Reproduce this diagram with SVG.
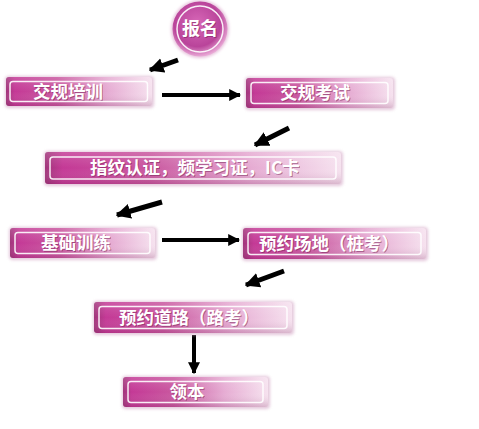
<svg xmlns="http://www.w3.org/2000/svg" width="479" height="429" viewBox="0 0 479 429">
  <defs>
    <linearGradient id="boxH" x1="0" y1="0" x2="1" y2="0">
      <stop offset="0" stop-color="#a0357a"/>
      <stop offset="0.06" stop-color="#c43996"/>
      <stop offset="0.35" stop-color="#c9579f"/>
      <stop offset="0.7" stop-color="#e6acd3"/>
      <stop offset="1" stop-color="#f6e2ef"/>
    </linearGradient>
    <linearGradient id="boxV" x1="0" y1="0" x2="0" y2="1">
      <stop offset="0" stop-color="#ffffff" stop-opacity="0.15"/>
      <stop offset="0.5" stop-color="#ffffff" stop-opacity="0"/>
      <stop offset="1" stop-color="#6a1048" stop-opacity="0.2"/>
    </linearGradient>
    <radialGradient id="circ" cx="0.45" cy="0.4" r="0.6">
      <stop offset="0" stop-color="#d868b8"/>
      <stop offset="0.7" stop-color="#b9449a"/>
      <stop offset="1" stop-color="#e9a8d6"/>
    </radialGradient>
    <filter id="glow" x="-10%" y="-30%" width="120%" height="160%">
      <feGaussianBlur stdDeviation="1.5"/>
    </filter>
    <marker id="ah" viewBox="0 0 10 10" refX="9" refY="5" markerWidth="3" markerHeight="3" markerUnits="strokeWidth" orient="auto">
      <path d="M0,0 L10,5 L0,10 Z" fill="#000"/>
    </marker>
    <marker id="ahd" viewBox="0 0 10 10" refX="9" refY="5" markerWidth="3" markerHeight="3.2" markerUnits="strokeWidth" orient="auto">
      <path d="M0,0 L10,5 L0,10 Z" fill="#000"/>
    </marker>
  </defs>
  <style>
    .sh { fill: #d9b0cc; opacity: 0.7; }
    .bx { fill: url(#boxH); }
    .ov { fill: url(#boxV); }
    .in { fill: none; stroke: #ffffff; stroke-width: 1.5; opacity: 0.9; }
    .t { font-family: "Noto Sans CJK SC", "Noto Sans", sans-serif; font-weight: bold; font-size: 17.5px; fill: #ffffff; text-anchor: middle; }
    .ts { font-family: "Noto Sans CJK SC", "Noto Sans", sans-serif; font-weight: bold; font-size: 17.5px; fill: #6a1a4c; opacity: 0.45; text-anchor: middle; }
    .ln { stroke: #000; fill: none; stroke-width: 4; }
    .dg { stroke: #000; fill: none; stroke-width: 5; }
  </style>
  <rect width="479" height="429" fill="#ffffff"/>

  <g id="connectors">
    <line class="dg" x1="178" y1="60" x2="150" y2="70" marker-end="url(#ahd)"/>
    <line class="ln" x1="162" y1="95" x2="240" y2="95" marker-end="url(#ah)"/>
    <line class="dg" x1="289" y1="128" x2="255" y2="145" marker-end="url(#ahd)"/>
    <line class="dg" x1="162" y1="202" x2="117" y2="215" marker-end="url(#ahd)"/>
    <line class="ln" x1="162" y1="240" x2="239" y2="240" marker-end="url(#ah)"/>
    <line class="dg" x1="284" y1="271" x2="246" y2="285" marker-end="url(#ahd)"/>
    <line class="ln" x1="194" y1="335" x2="194" y2="373" marker-end="url(#ah)"/>
  </g>

  <g id="n0">
    <circle cx="200" cy="29" r="29" fill="#e7c2dc" filter="url(#glow)"/>
    <circle cx="200" cy="29" r="27.5" fill="url(#circ)"/>
    <circle cx="200" cy="29" r="23" fill="none" stroke="#ffffff" stroke-width="1.5" opacity="0.9"/>
    <text class="ts" x="201" y="36" style="font-size:18px">报名</text>
    <text class="t" x="200" y="35" style="font-size:18px">报名</text>
  </g>

  <g id="n1">
    <rect class="sh" x="5" y="76" width="149" height="32" rx="4" filter="url(#glow)"/>
    <rect class="bx" x="6" y="77" width="146" height="29" rx="3"/>
    <rect class="ov" x="6" y="77" width="146" height="29" rx="3"/>
    <rect class="in" x="10" y="81.5" width="137.5" height="20" rx="3"/>
    <text class="ts" x="69" y="99">交规培训</text>
    <text class="t" x="68" y="98">交规培训</text>
  </g>

  <g id="n2">
    <rect class="sh" x="245" y="77" width="150" height="33" rx="4" filter="url(#glow)"/>
    <rect class="bx" x="246" y="78" width="147" height="30" rx="3"/>
    <rect class="ov" x="246" y="78" width="147" height="30" rx="3"/>
    <rect class="in" x="251" y="82.5" width="137" height="21" rx="3"/>
    <text class="ts" x="316" y="100">交规考试</text>
    <text class="t" x="315" y="99">交规考试</text>
  </g>

  <g id="n3">
    <rect class="sh" x="44" y="151" width="299" height="35" rx="4" filter="url(#glow)"/>
    <rect class="bx" x="45" y="152" width="296" height="32" rx="3"/>
    <rect class="ov" x="45" y="152" width="296" height="32" rx="3"/>
    <rect class="in" x="50" y="157" width="286" height="22" rx="3"/>
    <text class="ts" x="196" y="175">指纹认证，频学习证，IC卡</text>
    <text class="t" x="195" y="174">指纹认证，频学习证，IC卡</text>
  </g>

  <g id="n4">
    <rect class="sh" x="9" y="227" width="148" height="33" rx="4" filter="url(#glow)"/>
    <rect class="bx" x="10" y="228" width="145" height="30" rx="3"/>
    <rect class="ov" x="10" y="228" width="145" height="30" rx="3"/>
    <rect class="in" x="15" y="232.5" width="135" height="21" rx="3"/>
    <text class="ts" x="77" y="250">基础训练</text>
    <text class="t" x="76" y="249">基础训练</text>
  </g>

  <g id="n5">
    <rect class="sh" x="242" y="227" width="186" height="34" rx="4" filter="url(#glow)"/>
    <rect class="bx" x="243" y="228" width="183" height="31" rx="3"/>
    <rect class="ov" x="243" y="228" width="183" height="31" rx="3"/>
    <rect class="in" x="248" y="232.5" width="173" height="22" rx="3"/>
    <text class="ts" x="330" y="251">预约场地（桩考）</text>
    <text class="t" x="329" y="250">预约场地（桩考）</text>
  </g>

  <g id="n6">
    <rect class="sh" x="93" y="301" width="201" height="34" rx="4" filter="url(#glow)"/>
    <rect class="bx" x="94" y="302" width="198" height="31" rx="3"/>
    <rect class="ov" x="94" y="302" width="198" height="31" rx="3"/>
    <rect class="in" x="99" y="306.5" width="188" height="22" rx="3"/>
    <text class="ts" x="190" y="325">预约道路（路考）</text>
    <text class="t" x="189" y="324">预约道路（路考）</text>
  </g>

  <g id="n7">
    <rect class="sh" x="122" y="376" width="148" height="33" rx="4" filter="url(#glow)"/>
    <rect class="bx" x="123" y="377" width="145" height="30" rx="3"/>
    <rect class="ov" x="123" y="377" width="145" height="30" rx="3"/>
    <rect class="in" x="128" y="381.5" width="135" height="21" rx="3"/>
    <text class="ts" x="188" y="399">领本</text>
    <text class="t" x="187" y="398">领本</text>
  </g>
</svg>
